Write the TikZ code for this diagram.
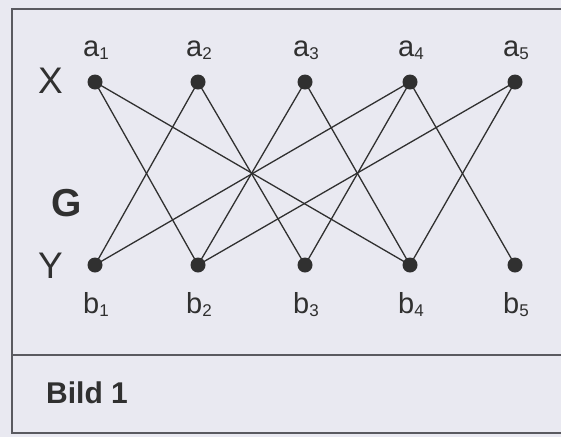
\documentclass[tikz,border=0pt]{standalone}
\usepackage{fontspec}
\setmainfont{Liberation Sans}
\usetikzlibrary{positioning}
\definecolor{papier}{HTML}{E9E9F1}
\definecolor{strich}{HTML}{303030}
\definecolor{rahmen}{HTML}{5A5A60}

\begin{document}
\begin{tikzpicture}[x=1pt, y=-1pt, line cap=round]
  % stile
  \tikzset{
    punkt/.style={circle, fill=strich, inner sep=0pt, minimum size=15pt},
    kante/.style={draw=strich, line width=1.3pt},
    marke/.style={anchor=base, inner sep=0pt, font=\fontsize{29}{29}\selectfont, text=strich},
    seite/.style={anchor=base west, inner sep=0pt, font=\fontsize{37}{37}\selectfont, text=strich}
  }
  % hintergrund und rahmen
  \fill[papier] (0,0) rectangle (561,437);
  \useasboundingbox (0,0) rectangle (561,437);
  \draw[rahmen, line width=1.4pt] (570,9) -- (12,9) -- (12,433) -- (570,433);
  \draw[rahmen, line width=1.4pt] (12,355) -- (570,355);
  % ecken
  \foreach \i/\x in {1/95, 2/198, 3/305, 4/410, 5/515} {
    \node[punkt] (a\i) at (\x,82) {};
    \node[punkt] (b\i) at (\x,265) {};
    \node[marke] (la\i) at (\x+1,56) {a\raisebox{-3pt}{\fontsize{17}{17}\selectfont\i}};
    \node[marke] (lb\i) at (\x+1,313) {b\raisebox{-3pt}{\fontsize{17}{17}\selectfont\i}};
  }
  \node[seite] (X) at (38,93) {X};
  \node[seite] (Y) at (38,278) {Y};
  \node[seite, font=\fontsize{39}{39}\selectfont\bfseries] (G) at (51,216) {G};
  % kanten
  \foreach \s/\t in {1/2, 1/4, 2/1, 2/3, 3/2, 3/4, 4/1, 4/3, 4/5, 5/2, 5/4}
    \draw[kante] (a\s.center) -- (b\t.center);
  % unterschrift
  \node[anchor=base west, inner sep=0pt, font=\fontsize{30}{30}\selectfont\bfseries, text=strich] (bild) at (46,403) {Bild 1};
\end{tikzpicture}
\end{document}
